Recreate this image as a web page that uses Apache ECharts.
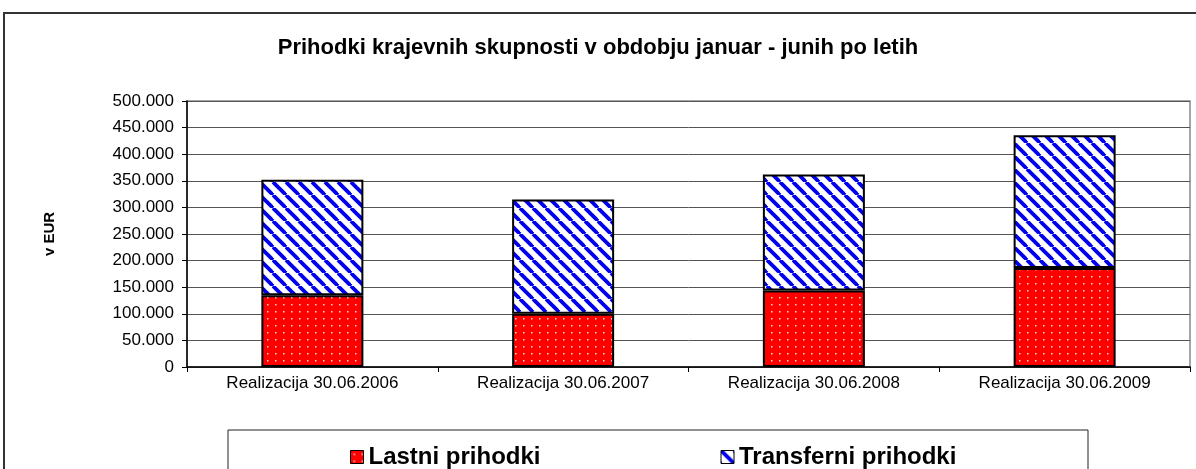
<!DOCTYPE html>
<html lang="sl">
    <head>
        <meta charset="utf-8">
        <title>Prihodki krajevnih skupnosti</title>
        <style>
            html, body { margin: 0; padding: 0; background: #fff; }
        </style>
    </head>

    <body>
        <div id="echart" style="width: 1196px; height: 469px;"></div>
        <script src="https://cdn.jsdelivr.net/npm/echarts@6/dist/echarts.min.js"></script>
        <script>
            // podatki (odčitani s slike)
            let categories = ['Realizacija 30.06.2006', 'Realizacija 30.06.2007', 'Realizacija 30.06.2008', 'Realizacija 30.06.2009'];
            let lastni = [135000, 100000, 144000, 186000];
            let transferni = [217000, 215000, 218000, 249500];
            let yTicks = [0, 50000, 100000, 150000, 200000, 250000, 300000, 350000, 400000, 450000, 500000];

            // vzorec: rdeče s pikami
            function dotPattern() {
                let c = document.createElement('canvas');
                c.width = 8; c.height = 7;
                let ctx = c.getContext('2d');
                ctx.fillStyle = '#ff0000';
                ctx.fillRect(0, 0, 8, 7);
                ctx.fillStyle = '#ffd8d8';
                ctx.fillRect(3, 3, 1.5, 1.5);
                return { image: c, repeat: 'repeat' };
            }

            // vzorec: modre diagonalne črte
            function stripePattern() {
                let s = 13;
                let c = document.createElement('canvas');
                c.width = s; c.height = s;
                let ctx = c.getContext('2d');
                ctx.fillStyle = '#ffffff';
                ctx.fillRect(0, 0, s, s);
                ctx.strokeStyle = '#0000ee';
                ctx.lineWidth = 3.8;
                for (let k of [-s, 0, s]) {
                    ctx.beginPath();
                    ctx.moveTo(k, 0);
                    ctx.lineTo(k + s, s);
                    ctx.stroke();
                }
                return { image: c, repeat: 'repeat' };
            }

            let fmt = v => v === 0 ? '0' : v.toLocaleString('de-DE');
            let font = 'Liberation Sans, Arial, sans-serif';

            let myChart = echarts.init(document.getElementById('echart'));
            let option = {
                animation: false,
                backgroundColor: '#fff',
                title: {
                    text: 'Prihodki krajevnih skupnosti v obdobju januar - junih po letih',
                    left: 'center',
                    top: 32,
                    textStyle: { fontFamily: font, fontSize: 22, fontWeight: 'bold', color: '#000' }
                },
                graphic: [
                    {
                        type: 'rect', z: -10,
                        shape: { x: 4, y: 13, width: 1250, height: 520 },
                        style: { fill: null, stroke: '#333', lineWidth: 2 }
                    },
                    {
                        type: 'rect', z: -5,
                        shape: { x: 228, y: 430, width: 860, height: 80 },
                        style: { fill: '#fff', stroke: '#222', lineWidth: 1 }
                    }
                ],
                legend: {
                    left: 345,
                    top: 440,
                    itemWidth: 13,
                    itemHeight: 13,
                    itemGap: 180,
                    icon: 'rect',
                    itemStyle: { borderColor: '#000', borderWidth: 1 },
                    textStyle: { fontFamily: font, fontSize: 24, fontWeight: 'bold', color: '#000' },
                    data: ['Lastni prihodki', 'Transferni prihodki']
                },
                grid: {
                    left: 187, right: 6, top: 101, bottom: 102,
                    show: true, borderColor: '#888', borderWidth: 1.5
                },
                xAxis: {
                    type: 'category',
                    data: categories,
                    axisLine: { lineStyle: { color: '#000', width: 1.5 } },
                    axisTick: { show: true, length: 5, lineStyle: { color: '#000' } },
                    axisLabel: { margin: 8, fontFamily: font, fontSize: 17, color: '#000' }
                },
                yAxis: {
                    type: 'value',
                    min: yTicks[0],
                    max: yTicks[yTicks.length - 1],
                    interval: yTicks[1] - yTicks[0],
                    name: 'v EUR',
                    nameLocation: 'middle',
                    nameRotate: 90,
                    nameGap: 130,
                    nameTextStyle: { fontFamily: font, fontSize: 15, fontWeight: 'bold', color: '#000' },
                    axisLine: { show: true, lineStyle: { color: '#000', width: 1.5 } },
                    axisTick: { show: true, length: 5, lineStyle: { color: '#000' } },
                    axisLabel: { margin: 13, fontFamily: font, fontSize: 17, color: '#000', formatter: fmt },
                    splitLine: { lineStyle: { color: '#555', width: 1 } }
                },
                series: [
                    {
                        name: 'Lastni prihodki',
                        type: 'bar',
                        stack: 'skupaj',
                        barWidth: 102,
                        data: lastni,
                        itemStyle: { color: dotPattern(), borderColor: '#000', borderWidth: 2 }
                    },
                    {
                        name: 'Transferni prihodki',
                        type: 'bar',
                        stack: 'skupaj',
                        barWidth: 102,
                        data: transferni,
                        itemStyle: { color: stripePattern(), borderColor: '#000', borderWidth: 2 }
                    }
                ]
            };
            myChart.setOption(option);
        </script>
    </body>
</html>
